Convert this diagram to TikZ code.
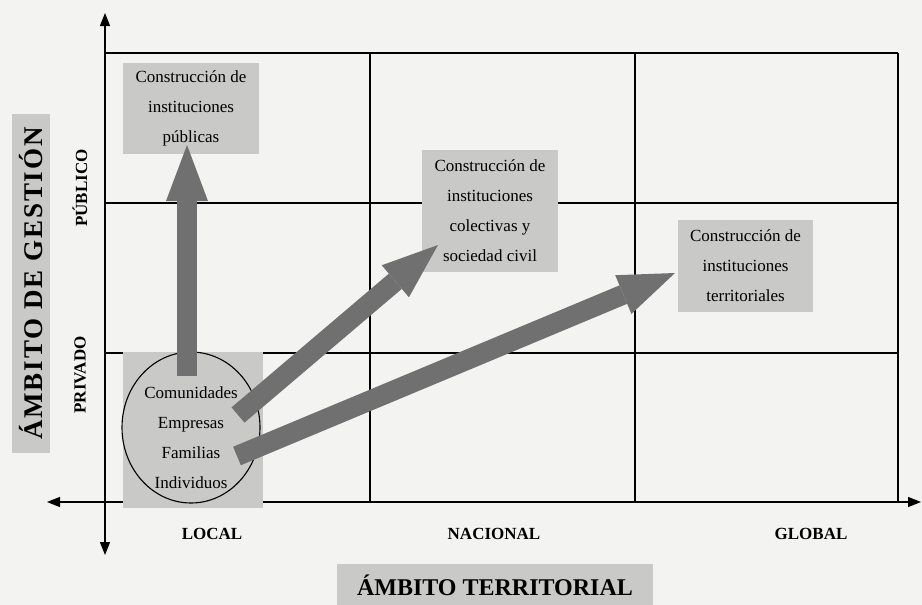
\documentclass[tikz,border=0pt]{standalone}
\usepackage{fontspec}
\setmainfont{Liberation Serif}
\newfontfamily\spacedserif[LetterSpace=7]{Liberation Serif}
\usetikzlibrary{arrows.meta,shapes.geometric}
\definecolor{paper}{RGB}{243,243,241}
\definecolor{boxgray}{RGB}{201,201,199}
\definecolor{arrowgray}{RGB}{112,112,112}
\tikzset{
  cellbox/.style={fill=boxgray, inner sep=0pt, align=center, font=\fontsize{17}{30}\selectfont},
  fatarrow/.style={draw=arrowgray, line width=20pt, -{Triangle[width=42pt,length=56pt,line width=0pt]}},
  axislabel/.style={font=\fontsize{17}{18}\selectfont\bfseries},
  titlebox/.style={fill=boxgray, inner sep=0pt, font=\bfseries},
  gridline/.style={line width=1.3pt},
  axisarrow/.style={line width=1.3pt, {Triangle[width=10pt,length=13pt]}-{Triangle[width=10pt,length=13pt]}}
}
\begin{document}
\begin{tikzpicture}[x=1pt,y=-1pt]
\fill[paper] (0,0) rectangle (922,605);
\useasboundingbox (0,0) rectangle (922,605);
% grid
\draw[gridline] (105,53) -- (898,53);
\draw[gridline] (105,203) -- (898,203);
\draw[gridline] (105,353) -- (898,353);
\draw[gridline] (370,53) -- (370,502);
\draw[gridline] (635,53) -- (635,502);
\draw[gridline] (898,53) -- (898,502);
% axes
\draw[axisarrow] (105,555) -- (105,13);
\draw[axisarrow] (47,502) -- (921,502);
% axis labels
\node[axislabel, rotate=90] (publico) at (80,188) {PÚBLICO};
\node[axislabel, rotate=90] (privado) at (80,375) {PRIVADO};
\node[axislabel] (local) at (212,534) {LOCAL};
\node[axislabel] (nacional) at (494,534) {NACIONAL};
\node[axislabel] (global) at (811,534) {GLOBAL};
\node[titlebox, rotate=90, minimum width=339pt, minimum height=38pt,
  font=\fontsize{27}{30}\spacedserif\bfseries] (gestion) at (31,283.5) {ÁMBITO DE GESTIÓN};
\node[titlebox, minimum width=316pt, minimum height=42pt,
  font=\fontsize{24}{28}\selectfont\bfseries] (territorial) at (495,585) {ÁMBITO TERRITORIAL};
% boxes
\node[cellbox, minimum width=136pt, minimum height=91pt] (publicas) at (191,108.5)
  {Construcción de\\instituciones\\públicas};
\node[cellbox, minimum width=136pt, minimum height=122pt] (colectivas) at (490,211)
  {Construcción de\\instituciones\\colectivas y\\sociedad civil};
\node[cellbox, minimum width=135pt, minimum height=92pt] (territoriales) at (745.5,266)
  {Construcción de\\instituciones\\territoriales};
\node[fill=boxgray, minimum width=140pt, minimum height=156pt] (localbox) at (193,430) {};
\node[draw, line width=1.1pt, ellipse, inner sep=0pt, minimum width=138pt, minimum height=151pt] (circulo) at (191,427.5) {};
\node[cellbox, fill=none] (grupos) at (191,438) {Comunidades\\Empresas\\Familias\\Individuos};
% arrows
\coordinate (a1) at (187,376);
\coordinate (t1) at (187,145);
\coordinate (a2) at (238,415);
\coordinate (t2) at (438,245);
\coordinate (a3) at (237,456);
\coordinate (t3) at (675,273);
\draw[fatarrow] (a1) -- (t1);
\draw[fatarrow] (a2) -- (t2);
\draw[fatarrow] (a3) -- (t3);
\end{tikzpicture}
\end{document}
